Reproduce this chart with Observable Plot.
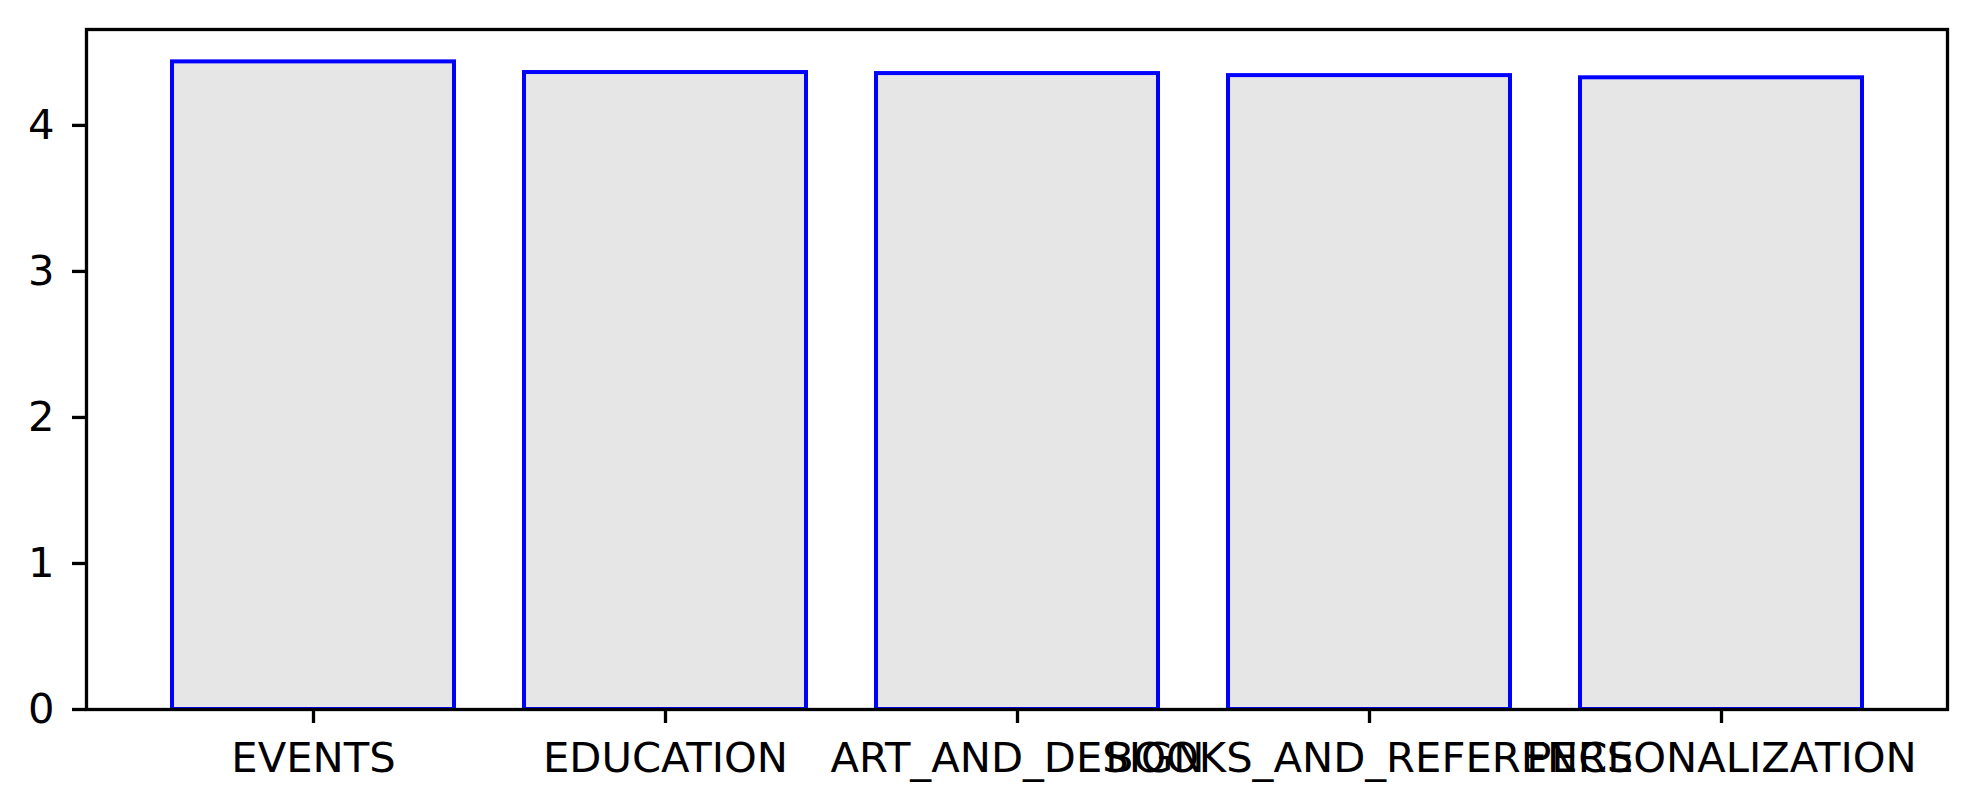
<!DOCTYPE html>
<html>
<head>
<meta charset="utf-8">
<script src="https://cdn.jsdelivr.net/npm/d3@7"></script>
<script src="https://cdn.jsdelivr.net/npm/@observablehq/plot@0.6"></script>
<style>
  html, body { margin: 0; padding: 0; background: #ffffff; }
  #chart svg { display: block; font-family: "DejaVu Sans", sans-serif; }
</style>
</head>
<body>
<div id="chart"></div>
<script>
const categories = ["EVENTS", "EDUCATION", "ART_AND_DESIGN", "BOOKS_AND_REFERENCE", "PERSONALIZATION"];
const ratings = [4.435, 4.362, 4.355, 4.341, 4.326];
const yTicks = [0, 1, 2, 3, 4];

const data = categories.map((c, i) => ({category: c, rating: ratings[i]}));
const yMax = d3.max(ratings) * 1.05;

const chart = Plot.plot({
  width: 1975,
  height: 810,
  marginLeft: 86,
  marginRight: 28,
  marginTop: 29,
  marginBottom: 101,
  style: {fontFamily: "DejaVu Sans, sans-serif", background: "#ffffff", color: "#000000"},
  x: {domain: categories, paddingInner: 0.2, paddingOuter: 0.24, label: null},
  y: {domain: [0, yMax], label: null},
  marks: [
    Plot.barY(data, {x: "category", y: "rating", fill: "#e6e6e6", stroke: "#0000ff", strokeWidth: 4}),
    Plot.frame({stroke: "#000000", strokeWidth: 3.3}),
    Plot.axisX({tickSize: 14, tickPadding: 19, fontSize: 41.7, strokeWidth: 3.3, fill: "#000000"}),
    Plot.axisY({ticks: yTicks, tickFormat: d3.format("d"), tickSize: 14, tickPadding: 18, fontSize: 41.7, strokeWidth: 3.3, fill: "#000000"})
  ]
});
document.getElementById("chart").appendChild(chart);
</script>
</body>
</html>
